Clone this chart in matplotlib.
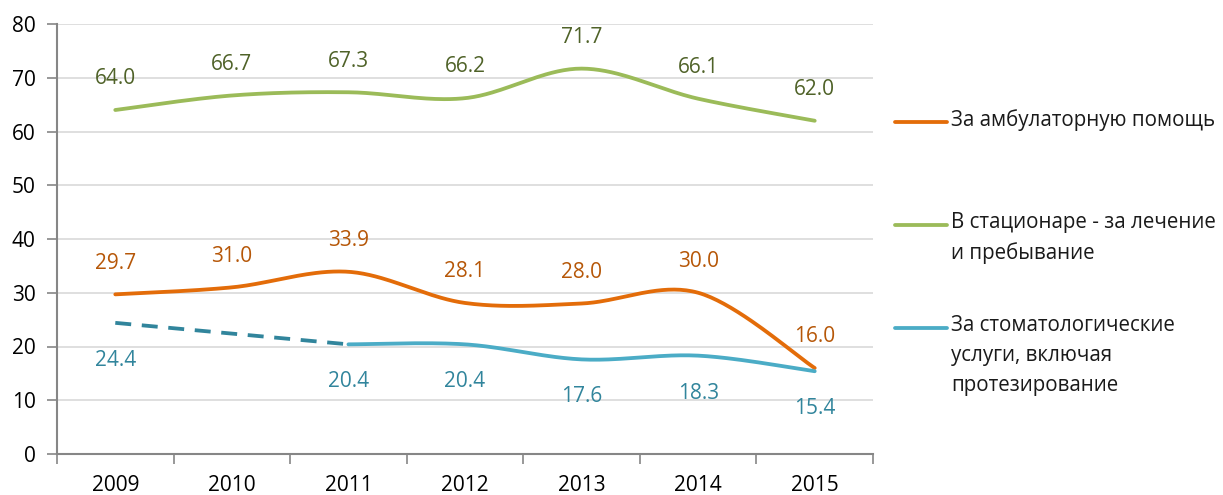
import numpy as np
import matplotlib
matplotlib.use("Agg")
import matplotlib.pyplot as plt
from matplotlib.lines import Line2D

plt.rcParams['font.family'] = ['Open Sans', 'DejaVu Sans']

years = ["2009", "2010", "2011", "2012", "2013", "2014", "2015"]
ambulatory = [29.7, 31.0, 33.9, 28.1, 28.0, 30.0, 16.0]
hospital = [64.0, 66.7, 67.3, 66.2, 71.7, 66.1, 62.0]
dental = [None, None, 20.4, 20.4, 17.6, 18.3, 15.4]
dental_early = [24.4, None, 20.4]
dental_labels = [24.4, None, 20.4, 20.4, 17.6, 18.3, 15.4]

names = ["За амбулаторную помощь",
         "В стационаре - за лечение\nи пребывание",
         "За стоматологические\nуслуги, включая\nпротезирование"]

c_orange, c_orange_t = "#E36C09", "#B65708"
c_green, c_green_t = "#9BBB59", "#4F6228"
c_teal, c_teal_t = "#4BACC6", "#31859C"
c_dash = "#31859C"


def smooth(xs, ys, n=40):
    xs = np.asarray(xs, float); ys = np.asarray(ys, float)
    P = np.column_stack([xs, ys])
    out = []
    for i in range(len(P) - 1):
        p0 = P[i - 1] if i > 0 else P[i]
        p1 = P[i]; p2 = P[i + 1]
        p3 = P[i + 2] if i + 2 < len(P) else P[i + 1]
        c1 = p1 + (p2 - p0) / 6.0
        c2 = p2 - (p3 - p1) / 6.0
        t = np.linspace(0, 1, n)[:, None]
        seg = (1 - t) ** 3 * p1 + 3 * (1 - t) ** 2 * t * c1 + 3 * (1 - t) * t ** 2 * c2 + t ** 3 * p2
        out.append(seg if i == 0 else seg[1:])
    s = np.vstack(out)
    return s[:, 0], s[:, 1]


fig = plt.figure(figsize=(12.23, 4.95), dpi=100)
ax = fig.add_axes([57 / 1223, 41 / 495, (873 - 57) / 1223, (454 - 24) / 495])

x = np.arange(len(years))
lw = 3.8 * 72 / 100

sx, sy = smooth(x, ambulatory)
ax.plot(sx, sy, color=c_orange, lw=lw, solid_capstyle='round', zorder=3)
sx, sy = smooth(x, hospital)
ax.plot(sx, sy, color=c_green, lw=lw, solid_capstyle='round', zorder=3)
dx = [i for i, v in enumerate(dental) if v is not None]
dy = [v for v in dental if v is not None]
sx, sy = smooth(dx, dy)
ax.plot(sx, sy, color=c_teal, lw=lw, solid_capstyle='round', zorder=3)
ex = [i for i, v in enumerate(dental_early) if v is not None]
ey = [v for v in dental_early if v is not None]
ax.plot(ex, ey, color=c_dash, lw=lw, linestyle=(0, (4.2, 2.8)), dash_capstyle='butt', zorder=3)

fs_lab = 15
for i, v in enumerate(hospital):
    ax.annotate(f"{v:.1f}", (i, v), xytext=(0, 22.5), textcoords='offset points',
                ha='center', va='center', color=c_green_t, fontsize=fs_lab)
for i, v in enumerate(ambulatory):
    ax.annotate(f"{v:.1f}", (i, v), xytext=(0, 22.5), textcoords='offset points',
                ha='center', va='center', color=c_orange_t, fontsize=fs_lab)
for i, v in enumerate(dental_labels):
    if v is None:
        continue
    ax.annotate(f"{v:.1f}", (i, v), xytext=(0, -27), textcoords='offset points',
                ha='center', va='center', color=c_teal_t, fontsize=fs_lab)

ax.set_xlim(-0.5, len(years) - 0.5)
ax.set_ylim(0, 80)
ax.set_yticks(np.arange(0, 81, 10))
ax.set_xticks(x)
ax.set_xticklabels(years)
ax.set_xticks(np.arange(-0.5, len(years), 1.0), minor=True)
ax.tick_params(axis='x', which='major', length=0, pad=15, labelsize=15, labelcolor="#000000")
ax.tick_params(axis='x', which='minor', length=7, width=1.2, color="#868686", direction='out')
ax.tick_params(axis='y', length=7, width=1.2, color="#868686", pad=8.5, labelsize=15, labelcolor="#000000")
ax.grid(axis='y', color="#D9D9D9", lw=1.2, zorder=0)
ax.set_axisbelow(True)
for s in ['top', 'right']:
    ax.spines[s].set_visible(False)
for s in ['left', 'bottom']:
    ax.spines[s].set_color("#868686")
    ax.spines[s].set_linewidth(1.5)

colors = [c_orange, c_green, c_teal]
ys_leg = [122, 225, 328]
for name, col, yp in zip(names, colors, ys_leg):
    yf = 1 - yp / 495
    fig.add_artist(Line2D([895 / 1223, 947 / 1223], [yf, yf], color=col, lw=lw,
                          solid_capstyle='round', transform=fig.transFigure))
    fig.text(951 / 1223, yf + 13 / 495, name, ha='left', va='top', fontsize=14.8,
             linespacing=1.56, color="#1A1A1A")

fig.savefig("out.png", dpi=100)
